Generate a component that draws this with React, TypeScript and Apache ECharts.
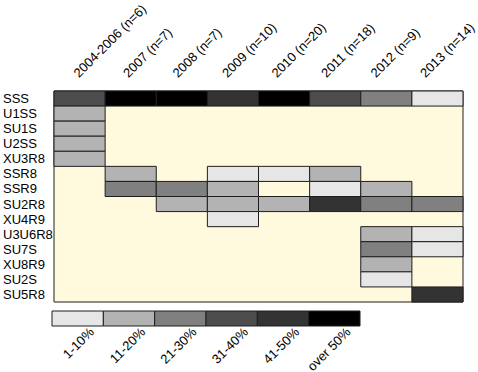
import React, { useEffect, useRef } from "react";
import * as echarts from "echarts";

const years = [
  "2004-2006 (n=6)",
  "2007 (n=7)",
  "2008 (n=7)",
  "2009 (n=10)",
  "2010 (n=20)",
  "2011 (n=18)",
  "2012 (n=9)",
  "2013 (n=14)",
];
const markers = [
  "SSS", "U1SS", "SU1S", "U2SS", "XU3R8", "SSR8", "SSR9",
  "SU2R8", "XU4R9", "U3U6R8", "SU7S", "XU8R9", "SU2S", "SU5R8",
];
const levelLabels = ["1-10%", "11-20%", "21-30%", "31-40%", "41-50%", "over 50%"];
const levelColors = ["#e6e6e6", "#b3b3b3", "#808080", "#4d4d4d", "#333333", "#000000"];
const N = -1;
// level index per marker (rows) and year (columns); -1 = absent
const levelsByMarker: number[][] = [
  [3, 5, 5, 4, 5, 3, 2, 0],
  [1, N, N, N, N, N, N, N],
  [1, N, N, N, N, N, N, N],
  [1, N, N, N, N, N, N, N],
  [1, N, N, N, N, N, N, N],
  [N, 1, N, 0, 0, 1, N, N],
  [N, 2, 2, 1, N, 0, 1, N],
  [N, N, 1, 1, 1, 4, 2, 2],
  [N, N, N, 0, N, N, N, N],
  [N, N, N, N, N, N, 1, 0],
  [N, N, N, N, N, N, 2, 0],
  [N, N, N, N, N, N, 1, N],
  [N, N, N, N, N, N, 0, N],
  [N, N, N, N, N, N, N, 4],
];

const FONT = "'Liberation Sans', Arial, sans-serif";

export default function App() {
  const ref = useRef<HTMLDivElement>(null);
  useEffect(() => {
    if (!ref.current) return;
    const chart = echarts.init(ref.current, null, { renderer: "svg" });
    const cellData: number[][] = [];
    levelsByMarker.forEach((row, r) =>
      row.forEach((lv, c) => {
        if (lv >= 0) cellData.push([c, r, lv]);
      })
    );
    const legendData = levelLabels.map((_, i) => [i, 0, i]);
    const renderCell = (params: any, api: any) => {
      const c = api.value(0);
      const r = api.value(1);
      const lv = api.value(2);
      const center = api.coord([c, r]);
      const size = api.size([1, 1]);
      return {
        type: "rect",
        shape: {
          x: center[0] - size[0] / 2,
          y: center[1] - size[1] / 2,
          width: size[0],
          height: size[1],
        },
        style: { fill: levelColors[lv], stroke: "#1e1e1e", lineWidth: 1 },
      };
    };
    const hiddenCat = (gridIndex: number, data: string[]) => ({
      type: "category",
      gridIndex,
      data,
      axisLine: { show: false },
      axisTick: { show: false },
      splitLine: { show: false },
      axisLabel: { show: false },
    });
    const labelStyle = {
      fontSize: 13,
      color: "#000",
      fontFamily: FONT,
      interval: 0,
    };
    chart.setOption({
      animation: false,
      textStyle: { fontFamily: FONT },
      grid: [
        {
          left: 52,
          top: 91,
          width: 411,
          height: 211,
          show: true,
          backgroundColor: "#fffadd",
          borderColor: "#1e1e1e",
          borderWidth: 1,
        },
        { left: 52, top: 311, width: 308, height: 15 },
        // label placement grids (column labels / legend labels)
        { left: 51, top: 91, width: 411, height: 211 },
        { left: 66, top: 311, width: 308, height: 15 },
      ],
      xAxis: [
        hiddenCat(0, years),
        hiddenCat(1, levelLabels),
        {
          type: "category",
          gridIndex: 2,
          data: years,
          position: "top",
          axisLine: { show: false },
          axisTick: { show: false },
          splitLine: { show: false },
          axisLabel: { ...labelStyle, rotate: -45, margin: 18 },
        },
        {
          type: "category",
          gridIndex: 3,
          data: levelLabels,
          position: "bottom",
          axisLine: { show: false },
          axisTick: { show: false },
          splitLine: { show: false },
          axisLabel: { ...labelStyle, rotate: 45, margin: 15 },
        },
      ],
      yAxis: [
        {
          type: "category",
          gridIndex: 0,
          data: markers,
          inverse: true,
          axisLine: { show: false },
          axisTick: { show: false },
          splitLine: { show: false },
          axisLabel: { ...labelStyle, align: "left", margin: 51 },
        },
        hiddenCat(1, ["legend"]),
        hiddenCat(2, markers),
        hiddenCat(3, ["legend"]),
      ],
      series: [
        {
          type: "custom",
          xAxisIndex: 0,
          yAxisIndex: 0,
          data: cellData,
          renderItem: renderCell,
        },
        {
          type: "custom",
          xAxisIndex: 1,
          yAxisIndex: 1,
          data: legendData,
          renderItem: renderCell,
        },
      ],
    });
    return () => chart.dispose();
  }, []);
  return <div ref={ref} style={{ width: 478, height: 372, position: "absolute", left: 0, top: 0 }} />;
}
